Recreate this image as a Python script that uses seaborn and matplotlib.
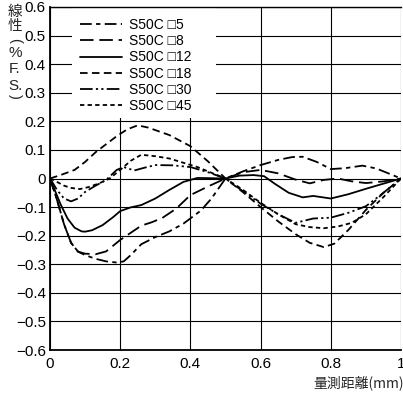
import matplotlib
matplotlib.use("Agg")
import matplotlib.pyplot as plt
from matplotlib.patches import Rectangle
import seaborn as sns
import pandas as pd

sns.set_style("white")
plt.rcParams['font.family'] = ['Liberation Sans', 'Noto Sans CJK JP', 'DejaVu Sans']
plt.rcParams['axes.unicode_minus'] = True

# ---- data ----
labels = ["S50C \u25a15", "S50C \u25a18", "S50C \u25a112", "S50C \u25a118", "S50C \u25a130", "S50C \u25a145"]

s5_x = [0, 0.02, 0.04, 0.06, 0.08, 0.10, 0.13, 0.16, 0.19, 0.21, 0.23, 0.26, 0.30, 0.34, 0.38, 0.43, 0.46, 0.50,
        0.55, 0.60, 0.65, 0.69, 0.72, 0.76, 0.80, 0.84, 0.89, 0.93, 0.97, 1.00]
s5_y = [0, -0.075, -0.16, -0.225, -0.256, -0.268, -0.281, -0.29, -0.294, -0.29, -0.268, -0.23, -0.205, -0.185,
        -0.158, -0.112, -0.07, 0, 0.025, 0.047, 0.065, 0.075, 0.076, 0.058, 0.033, 0.036, 0.045, 0.035, 0.015, 0]

s8_x = [0, 0.02, 0.04, 0.06, 0.08, 0.10, 0.13, 0.16, 0.20, 0.23, 0.26, 0.29, 0.32, 0.36, 0.40, 0.45, 0.50,
        0.55, 0.60, 0.65, 0.70, 0.74, 0.78, 0.82, 0.86, 0.90, 0.95, 1.00]
s8_y = [0, -0.075, -0.16, -0.225, -0.256, -0.263, -0.265, -0.255, -0.215, -0.19, -0.165, -0.153, -0.138, -0.105,
        -0.058, -0.028, 0, 0.022, 0.03, 0.018, -0.004, -0.017, -0.005, 0.0, -0.01, -0.016, -0.01, 0]

s12_x = [0, 0.015, 0.03, 0.05, 0.07, 0.09, 0.10, 0.12, 0.15, 0.18, 0.20, 0.23, 0.26, 0.30, 0.34, 0.38, 0.42, 0.46,
         0.50, 0.54, 0.58, 0.61, 0.64, 0.68, 0.72, 0.75, 0.80, 0.85, 0.90, 0.95, 1.00]
s12_y = [0, -0.045, -0.09, -0.14, -0.172, -0.185, -0.186, -0.181, -0.163, -0.135, -0.114, -0.101, -0.093, -0.07,
         -0.04, -0.012, 0.002, 0.001, 0, 0.01, 0.012, 0.008, -0.018, -0.05, -0.066, -0.061, -0.07, -0.055, -0.036,
         -0.018, 0]

s18_x = [0, 0.03, 0.07, 0.10, 0.13, 0.16, 0.19, 0.22, 0.25, 0.28, 0.34, 0.40, 0.45, 0.50, 0.55, 0.60, 0.65, 0.70,
         0.74, 0.78, 0.81, 0.85, 0.90, 0.95, 1.00]
s18_y = [0, 0.012, 0.03, 0.058, 0.092, 0.12, 0.148, 0.172, 0.186, 0.178, 0.152, 0.113, 0.06, 0, -0.048, -0.1,
         -0.15, -0.195, -0.225, -0.24, -0.228, -0.18, -0.11, -0.05, 0]

s30_x = [0, 0.02, 0.04, 0.06, 0.08, 0.10, 0.13, 0.16, 0.19, 0.21, 0.24, 0.27, 0.30, 0.35, 0.40, 0.45, 0.50, 0.55,
         0.60, 0.65, 0.70, 0.75, 0.80, 0.85, 0.90, 0.95, 1.00]
s30_y = [0, -0.04, -0.07, -0.08, -0.07, -0.047, -0.025, -0.005, 0.03, 0.04, 0.028, 0.038, 0.047, 0.046, 0.04,
         0.022, 0, -0.045, -0.088, -0.125, -0.155, -0.14, -0.137, -0.12, -0.097, -0.05, 0]

s45_x = [0, 0.02, 0.04, 0.06, 0.085, 0.11, 0.14, 0.17, 0.20, 0.23, 0.26, 0.30, 0.34, 0.38, 0.42, 0.46, 0.50, 0.55,
         0.60, 0.65, 0.70, 0.74, 0.78, 0.82, 0.86, 0.90, 0.95, 1.00]
s45_y = [0, -0.012, -0.025, -0.033, -0.037, -0.03, -0.017, 0.0, 0.03, 0.062, 0.083, 0.078, 0.07, 0.055, 0.04,
         0.02, 0, -0.04, -0.085, -0.125, -0.16, -0.17, -0.174, -0.168, -0.155, -0.125, -0.065, 0]

x_ticks = [0, 0.2, 0.4, 0.6, 0.8, 1.0]
x_ticklabels = ["0", "0.2", "0.4", "0.6", "0.8", "1"]
y_ticks = [0.6, 0.5, 0.4, 0.3, 0.2, 0.1, 0, -0.1, -0.2, -0.3, -0.4, -0.5, -0.6]
y_ticklabels = ["0.6", "0.5", "0.4", "0.3", "0.2", "0.1", "0", "\u22120.1", "\u22120.2", "\u22120.3",
                "\u22120.4", "\u22120.5", "\u22120.6"]

series = [(s5_x, s5_y), (s8_x, s8_y), (s12_x, s12_y), (s18_x, s18_y), (s30_x, s30_y), (s45_x, s45_y)]
styles = [(0, (6.5, 2.4, 2.4, 2.4)),
          (0, (7.5, 3.2)),
          "-",
          (0, (4.2, 2.4)),
          (0, (7, 1.8, 1.2, 1.8, 1.2, 1.8)),
          (0, (2.4, 1.8))]

# ---- figure ----
fig = plt.figure(figsize=(4.03, 3.96), dpi=100)
ax = fig.add_axes([50 / 403, 1 - 350 / 396, 351 / 403, 343 / 396])

for (xs, ys), lab, ls in zip(series, labels, styles):
    df = pd.DataFrame({"x": xs, "y": ys})
    sns.lineplot(data=df, x="x", y="y", ax=ax, color="black", linewidth=1.3, linestyle=ls,
                 label=lab, estimator=None, errorbar=None, sort=False, zorder=3)

ax.set_xlim(0, 1)
ax.set_ylim(-0.6, 0.6)
ax.set_xticks(x_ticks)
ax.set_xticklabels(x_ticklabels)
ax.set_yticks(y_ticks)
ax.set_yticklabels(y_ticklabels)
ax.tick_params(axis="both", length=0, labelsize=11, colors="black")
ax.tick_params(axis="y", pad=3)
ax.tick_params(axis="x", pad=5)
ax.set_xlabel("")
ax.set_ylabel("")

ax.grid(True, color="black", linewidth=0.8)
ax.set_axisbelow(True)
for side in ["left", "bottom"]:
    ax.spines[side].set_color("black")
    ax.spines[side].set_linewidth(1.3)
ax.spines["top"].set_color("black")
ax.spines["top"].set_linewidth(1.0)
ax.spines["top"].set_zorder(10)
ax.spines["right"].set_visible(False)

# white area behind legend
ax.add_patch(Rectangle((22 / 351, (350 - 118) / 343), (216 - 72) / 351, 1 - (350 - 118) / 343,
                       transform=ax.transAxes, facecolor="white", edgecolor="none", zorder=1))

leg = ax.legend(loc="upper left", bbox_to_anchor=((80 - 50) / 351, (350 - 18) / 343), frameon=False,
                fontsize=10, handlelength=3.0, handletextpad=0.55, labelspacing=0.16, borderpad=0,
                borderaxespad=0)
for t in leg.get_texts():
    t.set_color("black")

# y label: stacked vertical characters
cjk = ['Noto Sans CJK JP', 'DejaVu Sans']
fig.text(15 / 403, 1 - 19 / 396, "線\n性", family=cjk, fontsize=10.5, ha="center", va="center",
         linespacing=1.0, multialignment="center")
fig.text(15 / 403, 1 - 40 / 396, "(", fontsize=10.5, ha="center", va="center", rotation=-90)
fig.text(15 / 403, 1 - 53 / 396, "%", fontsize=11, ha="center", va="center")
fig.text(15 / 403, 1 - 69 / 396, "F.", fontsize=11, ha="center", va="center")
fig.text(15 / 403, 1 - 86 / 396, "S.", fontsize=11, ha="center", va="center")
fig.text(15 / 403, 1 - 96 / 396, ")", fontsize=10.5, ha="center", va="center", rotation=-90)

# x label
fig.text(313 / 403, 1 - 383 / 396, "量測距離(mm)", family=cjk, fontsize=10, ha="left", va="center")

fig.savefig("out.png", dpi=100)
